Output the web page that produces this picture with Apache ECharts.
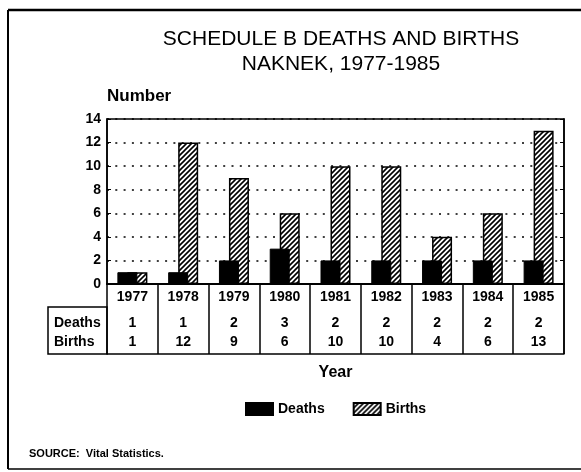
<!DOCTYPE html>
<html>
<head>
<meta charset="utf-8">
<script src="https://cdn.jsdelivr.net/npm/echarts@6/dist/echarts.min.js"></script>
<style>
  html, body { margin: 0; padding: 0; background: #fff; }
  #chart { width: 581px; height: 472px; }
</style>
</head>
<body>
<div id="chart"></div>
<script>
// 年份
const years = ["1977", "1978", "1979", "1980", "1981", "1982", "1983", "1984", "1985"];
// 死亡人数
const deaths = [1, 1, 2, 3, 2, 2, 2, 2, 2];
// 出生人数
const births = [1, 12, 9, 6, 10, 10, 4, 6, 13];
// 表格行名
const rowNames = ["Deaths", "Births"];

const FONT = "Liberation Sans";

// 斜线填充
const hatch = document.createElement("canvas");
hatch.width = 5;
hatch.height = 5;
const hctx = hatch.getContext("2d");
hctx.fillStyle = "#fff";
hctx.fillRect(0, 0, 5, 5);
hctx.strokeStyle = "#000";
hctx.lineWidth = 1.6;
hctx.beginPath();
hctx.moveTo(-1, 6); hctx.lineTo(6, -1);
hctx.moveTo(-3, 3); hctx.lineTo(3, -3);
hctx.moveTo(2, 8); hctx.lineTo(8, 2);
hctx.stroke();

const boldText = { color: "#000", fontFamily: FONT, fontWeight: "bold", fontSize: 14 };

const myChart = echarts.init(document.getElementById("chart"));
let option = {
  backgroundColor: "#fff",
  animation: false,
  title: [
    {
      text: "SCHEDULE B DEATHS AND BIRTHS\nNAKNEK, 1977-1985",
      left: 336,
      textAlign: "center",
      top: 22,
      textStyle: { color: "#000", fontFamily: FONT, fontWeight: "normal", fontSize: 21, lineHeight: 25 },
    },
    {
      text: "SOURCE:  Vital Statistics.",
      left: 24,
      top: 443,
      textStyle: { color: "#000", fontFamily: FONT, fontWeight: "bold", fontSize: 11 },
    },
  ],
  legend: {
    data: ["Deaths", "Births"],
    left: 240,
    top: 397,
    icon: "rect",
    itemWidth: 27,
    itemHeight: 12,
    itemGap: 28,
    textStyle: boldText,
  },
  grid: {
    left: 107,
    right: 17,
    top: 119,
    bottom: 188,
    show: true,
    borderColor: "#000",
    borderWidth: 1.5,
    backgroundColor: "transparent",
  },
  xAxis: [
    {
      type: "category",
      data: years,
      position: "bottom",
      axisLine: { show: true, lineStyle: { color: "#000", width: 2 } },
      axisTick: { show: true, interval: 0, length: 70, lineStyle: { color: "#000", width: 1.5 } },
      axisLabel: { ...boldText, margin: 6, interval: 0 },
    },
    {
      type: "category",
      data: years,
      position: "bottom",
      offset: 23,
      axisLine: { show: true, lineStyle: { color: "#000", width: 1.5 } },
      axisTick: { show: false },
      axisLabel: {
        ...boldText,
        interval: 0,
        margin: 7,
        lineHeight: 19,
        formatter: (v, i) => deaths[i] + "\n" + births[i],
      },
    },
    {
      type: "category",
      data: years,
      position: "bottom",
      offset: 70,
      name: "Year",
      nameLocation: "middle",
      nameGap: 11,
      nameTextStyle: { ...boldText, fontSize: 16 },
      axisLine: { show: true, lineStyle: { color: "#000", width: 1.5 } },
      axisTick: { show: false },
      axisLabel: { show: false },
    },
  ],
  yAxis: [
    {
      type: "value",
      min: 0,
      max: 14,
      interval: 2,
      name: "Number",
      nameLocation: "end",
      nameGap: 14,
      nameTextStyle: { ...boldText, fontSize: 17, align: "left" },
      axisLine: { show: true, lineStyle: { color: "#000", width: 1.5 } },
      axisTick: { show: true, inside: true, length: 4, lineStyle: { color: "#000" } },
      axisLabel: { ...boldText, margin: 6 },
      splitLine: { show: true, lineStyle: { color: "#000", width: 1.5, type: [2, 6.3] } },
    },
    {
      type: "value",
      min: 0,
      max: 14,
      interval: 2,
      position: "right",
      axisLine: { show: true, lineStyle: { color: "#000", width: 1.5 } },
      axisTick: { show: true, inside: true, length: 4, lineStyle: { color: "#000" } },
      axisLabel: { show: false },
      splitLine: { show: false },
    },
  ],
  series: [
    {
      name: "Deaths",
      type: "bar",
      data: deaths,
      barWidth: 20,
      barGap: "-50%",
      z: 3,
      itemStyle: { color: "#000", borderColor: "#000", borderWidth: 1 },
    },
    {
      name: "Births",
      type: "bar",
      data: births,
      barWidth: 20,
      barGap: "-50%",
      z: 2,
      itemStyle: { color: { image: hatch, repeat: "repeat" }, borderColor: "#000", borderWidth: 1.5 },
    },
  ],
  graphic: [
    // 外框
    { type: "line", shape: { x1: 8, y1: 10, x2: 581, y2: 10 }, style: { stroke: "#000", lineWidth: 2.5 } },
    { type: "line", shape: { x1: 8, y1: 10, x2: 8, y2: 469 }, style: { stroke: "#000", lineWidth: 2 } },
    { type: "line", shape: { x1: 8, y1: 469, x2: 581, y2: 469 }, style: { stroke: "#000", lineWidth: 1.5 } },
    // 表格右边框
    { type: "line", shape: { x1: 564, y1: 284, x2: 564, y2: 354 }, style: { stroke: "#000", lineWidth: 1.5 } },
    // 表格行名
    { type: "rect", shape: { x: 48, y: 307, width: 59, height: 47 }, style: { fill: "none", stroke: "#000", lineWidth: 1.5 } },
    ...rowNames.map((n, i) => ({
      type: "text",
      left: 54,
      top: 316 + i * 19,
      style: { text: n, fill: "#000", font: "bold 14px " + FONT },
    })),
  ],
};

option && myChart.setOption(option);
</script>
</body>
</html>
